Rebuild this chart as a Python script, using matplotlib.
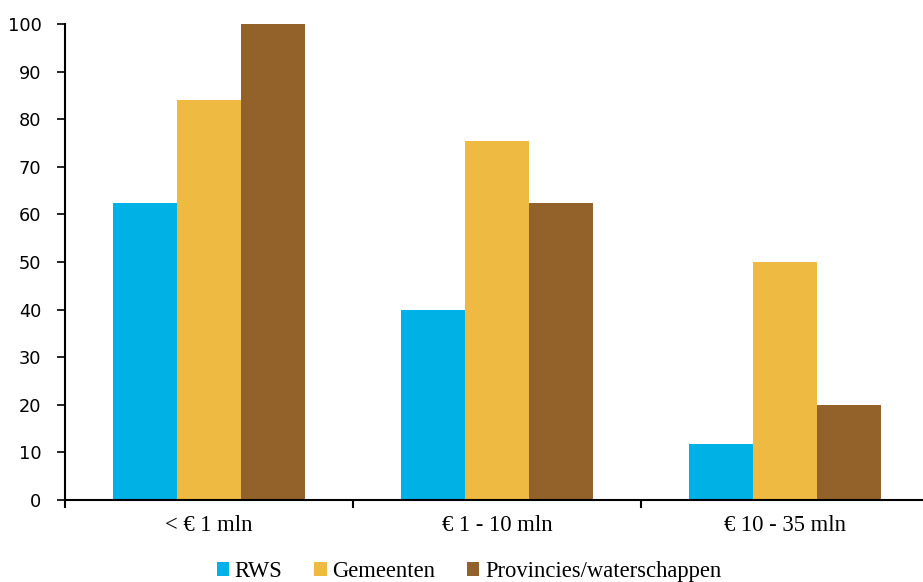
import numpy as np
import matplotlib
matplotlib.use("Agg")
import matplotlib.pyplot as plt
from matplotlib.patches import Patch

categories = ['< € 1 mln', '€ 1 - 10 mln', '€ 10 - 35 mln']
series = ['RWS', 'Gemeenten', 'Provincies/waterschappen']
rws = [62.5, 40, 11.8]
gemeenten = [84, 75.5, 50]
provincies = [100, 62.5, 20]
colors = ['#00B1E5', '#EEBA42', '#93622A']

plt.rcParams['font.family'] = 'DejaVu Sans'
label_font = dict(family='Liberation Serif', size=16.3)

fig = plt.figure(figsize=(9.23, 5.82), dpi=100)
ax = fig.add_axes([65 / 923, 82 / 582, 864 / 923, 476 / 582])

x = np.arange(len(categories))
w = 0.222
for i, (vals, c) in enumerate(zip([rws, gemeenten, provincies], colors)):
    ax.bar(x + (i - 1) * w, vals, width=w, color=c, edgecolor='none')

ax.set_xlim(-0.5, 2.5)
ax.set_ylim(0, 100)
ax.set_yticks(range(0, 101, 10))
ax.set_yticklabels([str(v) for v in range(0, 101, 10)], family='DejaVu Sans', size=12.8)
ax.tick_params(axis='y', length=6, width=1.2, direction='out', pad=11)

# boundary ticks, labels at category centres
ax.set_xticks([-0.5, 0.5, 1.5, 2.5])
ax.set_xticklabels([])
ax.set_xticks(x, minor=True)
ax.set_xticklabels(categories, minor=True, fontdict=label_font)
ax.tick_params(axis='x', which='major', length=6, width=1.5, direction='out')
ax.tick_params(axis='x', which='minor', length=0, pad=11)

for s in ['top', 'right']:
    ax.spines[s].set_visible(False)
ax.spines['left'].set_linewidth(1.5)
ax.spines['bottom'].set_linewidth(1.5)

handles = [Patch(facecolor=c, edgecolor='none') for c in colors]
fig.legend(handles, series, loc='lower center', bbox_to_anchor=(0.508, -0.035),
           ncol=3, frameon=False, handlelength=0.55, handleheight=0.55,
           handletextpad=0.25, columnspacing=1.4, prop=label_font)

fig.savefig('out.png', dpi=100)
